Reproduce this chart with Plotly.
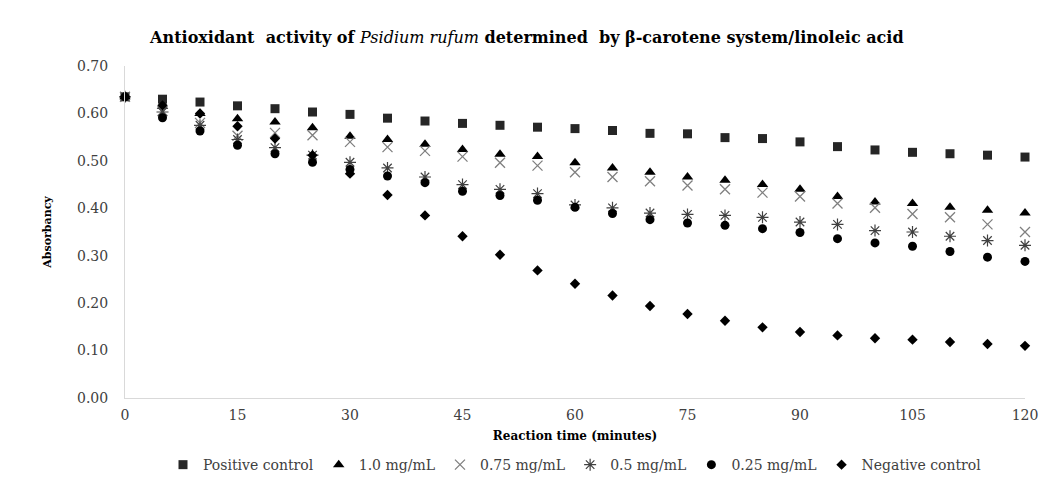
import plotly.graph_objects as go

time_min = [0, 5, 10, 15, 20, 25, 30, 35, 40, 45, 50, 55, 60, 65, 70, 75, 80, 85, 90, 95, 100, 105, 110, 115, 120]

positive_control = [0.635, 0.630, 0.624, 0.616, 0.610, 0.603, 0.598, 0.590, 0.584, 0.579, 0.575, 0.571, 0.568, 0.564,
                    0.558, 0.557, 0.549, 0.547, 0.540, 0.530, 0.523, 0.518, 0.515, 0.512, 0.508]
conc_1_0 = [0.635, 0.615, 0.600, 0.589, 0.582, 0.570, 0.552, 0.545, 0.535, 0.524, 0.514, 0.509, 0.496, 0.485,
            0.476, 0.466, 0.459, 0.450, 0.440, 0.425, 0.413, 0.410, 0.402, 0.396, 0.390]
conc_0_75 = [0.635, 0.605, 0.580, 0.553, 0.559, 0.554, 0.540, 0.529, 0.521, 0.509, 0.496, 0.490, 0.476, 0.466,
             0.457, 0.448, 0.440, 0.433, 0.425, 0.410, 0.401, 0.388, 0.381, 0.366, 0.350]
conc_0_5 = [0.635, 0.603, 0.575, 0.545, 0.528, 0.512, 0.497, 0.485, 0.466, 0.450, 0.440, 0.431, 0.407, 0.401,
            0.390, 0.387, 0.385, 0.381, 0.371, 0.366, 0.353, 0.350, 0.341, 0.332, 0.322]
conc_0_25 = [0.635, 0.591, 0.563, 0.533, 0.515, 0.497, 0.482, 0.468, 0.454, 0.436, 0.427, 0.417, 0.402, 0.389,
             0.376, 0.369, 0.364, 0.357, 0.349, 0.336, 0.327, 0.320, 0.309, 0.297, 0.288]
negative_control = [0.635, 0.617, 0.600, 0.573, 0.547, 0.512, 0.473, 0.428, 0.385, 0.341, 0.302, 0.269, 0.241, 0.216,
                    0.194, 0.177, 0.163, 0.149, 0.139, 0.132, 0.126, 0.123, 0.118, 0.114, 0.110]

x_ticks = [0, 15, 30, 45, 60, 75, 90, 105, 120]
y_ticks = [0.0, 0.1, 0.2, 0.3, 0.4, 0.5, 0.6, 0.7]
y_tick_labels = ["0.00", "0.10", "0.20", "0.30", "0.40", "0.50", "0.60", "0.70"]

series = [
    ("Positive control", positive_control, dict(symbol="square", size=9, color="#262626")),
    ("1.0 mg/mL", conc_1_0, dict(symbol="triangle-up", size=10, color="#000000")),
    ("0.75 mg/mL", conc_0_75, dict(symbol="x-thin-open", size=10, color="#7f7f7f", line=dict(width=1.3, color="#7f7f7f"))),
    ("0.5 mg/mL", conc_0_5, dict(symbol="asterisk-open", size=10, color="#404040", line=dict(width=1.2, color="#404040"))),
    ("0.25 mg/mL", conc_0_25, dict(symbol="circle", size=9, color="#000000")),
    ("Negative control", negative_control, dict(symbol="diamond", size=8, color="#000000")),
]

FONT = "DejaVu Serif"

fig = go.Figure()
for name, vals, marker in series:
    fig.add_trace(go.Scatter(x=time_min, y=vals, mode="markers", name=name, marker=marker, cliponaxis=False))

# page body has an 8px margin, so the figure is sized to fit inside the window
fig.update_layout(
    width=1044, height=486,
    paper_bgcolor="white", plot_bgcolor="white",
    margin=dict(l=117, r=27, t=58, b=96, autoexpand=False),
    font=dict(family=FONT, size=13, color="#404040"),
    title=dict(
        text="<b>Antioxidant  activity of </b><i>Psidium rufum</i><b> determined  by β-carotene system/linoleic acid</b>",
        x=0.497, xref="container", xanchor="center", y=0.94, yanchor="middle",
        font=dict(family=FONT, size=16, color="#000000"),
    ),
    xaxis=dict(
        range=[0, 120], tickvals=x_ticks, ticktext=[str(v) for v in x_ticks],
        showgrid=False, zeroline=False, showline=True, linecolor="#d9d9d9", linewidth=1,
        ticks="", tickfont=dict(family=FONT, size=14, color="#404040"), ticklabelstandoff=4,
        title=dict(text="<b>Reaction time (minutes)</b>", font=dict(family=FONT, size=12, color="#000000"), standoff=9),
        automargin=False,
    ),
    yaxis=dict(
        range=[0, 0.70], tickvals=y_ticks, ticktext=y_tick_labels,
        showgrid=False, zeroline=False, showline=True, linecolor="#d9d9d9", linewidth=1,
        ticks="", tickfont=dict(family=FONT, size=14, color="#404040"), ticklabelstandoff=13,
        title=dict(text="<b>Absorbancy</b>", font=dict(family=FONT, size=11, color="#000000"), standoff=23),
        automargin=False,
    ),
    legend=dict(
        orientation="h", x=0.5, xanchor="center", y=-0.202, yanchor="middle",
        font=dict(family=FONT, size=14, color="#404040"),
        itemsizing="trace", itemwidth=30,
    ),
    showlegend=True,
)

fig.write_html("out.html")
